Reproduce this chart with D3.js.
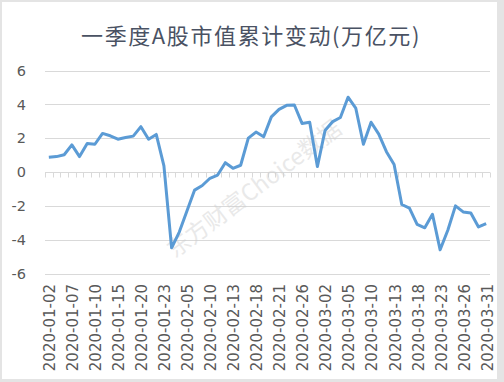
<!DOCTYPE html>
<html>
<head>
<meta charset="utf-8">
<script src="https://cdn.jsdelivr.net/npm/d3@7"></script>
<style>
  body { margin: 0; background: #fff; }
  svg { display: block; }
</style>
</head>
<body>
<div id="chart"></div>
<script>
// 一季度A股市值累计变动, trading days only

var dates = [
    '2020-01-02','2020-01-03','2020-01-06','2020-01-07','2020-01-08','2020-01-09','2020-01-10',
    '2020-01-13','2020-01-14','2020-01-15','2020-01-16','2020-01-17','2020-01-20','2020-01-21',
    '2020-01-22','2020-01-23',
    '2020-02-03','2020-02-04','2020-02-05','2020-02-06','2020-02-07','2020-02-10','2020-02-11',
    '2020-02-12','2020-02-13','2020-02-14','2020-02-17','2020-02-18','2020-02-19','2020-02-20',
    '2020-02-21','2020-02-24','2020-02-25','2020-02-26','2020-02-27','2020-02-28',
    '2020-03-02','2020-03-03','2020-03-04','2020-03-05','2020-03-06','2020-03-09','2020-03-10',
    '2020-03-11','2020-03-12','2020-03-13','2020-03-16','2020-03-17','2020-03-18','2020-03-19',
    '2020-03-20','2020-03-23','2020-03-24','2020-03-25','2020-03-26','2020-03-27','2020-03-30',
    '2020-03-31'
];

var values = [
    0.87, 0.91, 1.02, 1.6, 0.91, 1.68, 1.64,
    2.28, 2.14, 1.94, 2.04, 2.12, 2.68, 1.94,
    2.22, 0.36,
    -4.48, -3.55, -2.3, -1.07, -0.8, -0.37, -0.18,
    0.55, 0.22, 0.4, 2.0, 2.36, 2.08, 3.26,
    3.7, 3.94, 3.96, 2.87, 2.94, 0.32,
    2.45, 2.98, 3.22, 4.42, 3.78, 1.64, 2.94,
    2.24, 1.2, 0.44, -1.92, -2.14, -3.1, -3.3,
    -2.5, -4.6, -3.44, -2.0, -2.36, -2.42, -3.25,
    -3.05
];

var yTicks = [-6, -4, -2, 0, 2, 4, 6];

var title = '一季度A股市值累计变动(万亿元)';
var watermark = '东方财富Choice数据';

var width = 504,
    height = 382;

var svg = d3.select('#chart').append('svg')
    .attr('width', width)
    .attr('height', height);

// frame
svg.append('rect')
    .attr('width', width)
    .attr('height', height)
    .attr('fill', '#e4e4e4');
svg.append('rect')
    .attr('x', 2)
    .attr('y', 2)
    .attr('width', 495)
    .attr('height', 377)
    .attr('fill', '#fff');

var x = d3.scaleBand()
    .domain(dates)
    .range([45, 490]);

var y = d3.scaleLinear()
    .domain([-6, 6])
    .range([273.5, 70.5]);

// title
svg.append('text')
    .attr('x', 251)
    .attr('y', 44)
    .attr('text-anchor', 'middle')
    .attr('font-family', '"Noto Sans CJK SC", sans-serif')
    .attr('font-size', 22)
    .attr('letter-spacing', 1.6)
    .attr('fill', '#4a5263')
    .text(title);

// gridlines
svg.append('g')
    .selectAll('line')
    .data(yTicks)
    .join('line')
    .attr('x1', 45)
    .attr('x2', 490)
    .attr('y1', function(d){ return Math.round(y(d)) + 0.5; })
    .attr('y2', function(d){ return Math.round(y(d)) + 0.5; })
    .attr('stroke', '#d9d9d9')
    .attr('stroke-width', 1);

// little ticks on the zero line, between categories
var zeroY = Math.round(y(0)) + 0.5;
var bounds = dates.map(function(d){ return x(d); }).concat([x.range()[1]]);
svg.append('g')
    .selectAll('line')
    .data(bounds)
    .join('line')
    .attr('x1', function(d){ return Math.round(d) + 0.5; })
    .attr('x2', function(d){ return Math.round(d) + 0.5; })
    .attr('y1', zeroY)
    .attr('y2', zeroY + 5)
    .attr('stroke', '#d9d9d9');

// y labels
svg.append('g')
    .selectAll('text')
    .data(yTicks)
    .join('text')
    .attr('x', 26)
    .attr('y', function(d){ return y(d); })
    .attr('dy', '0.36em')
    .attr('text-anchor', 'end')
    .attr('font-family', '"DejaVu Sans", sans-serif')
    .attr('font-size', 14.5)
    .attr('fill', '#595959')
    .text(function(d){ return d; });

// x labels, every third trading day
svg.append('g')
    .selectAll('text')
    .data(dates.filter(function(d, i){ return i % 3 === 0; }))
    .join('text')
    .attr('transform', function(d){
        return 'translate(' + (x(d) + x.bandwidth() / 2 + 1) + ',284) rotate(-90)';
    })
    .attr('dy', '0.36em')
    .attr('text-anchor', 'end')
    .attr('font-family', '"DejaVu Sans", sans-serif')
    .attr('font-size', 15)
    .attr('fill', '#595959')
    .text(function(d){ return d; });

// watermark
svg.append('text')
    .attr('transform', 'translate(254,189) rotate(-37)')
    .attr('text-anchor', 'middle')
    .attr('dy', '0.35em')
    .attr('font-family', '"Noto Sans CJK SC", sans-serif')
    .attr('font-size', 23)
    .attr('fill', '#cfcfcf')
    .attr('opacity', 0.45)
    .text(watermark);

// line
var line = d3.line()
    .x(function(d, i){ return x(dates[i]) + x.bandwidth() / 2; })
    .y(function(d){ return y(d); });

svg.append('path')
    .datum(values)
    .attr('d', line)
    .attr('fill', 'none')
    .attr('stroke', '#5b9bd5')
    .attr('stroke-width', 3)
    .attr('stroke-linejoin', 'round');
</script>
</body>
</html>
